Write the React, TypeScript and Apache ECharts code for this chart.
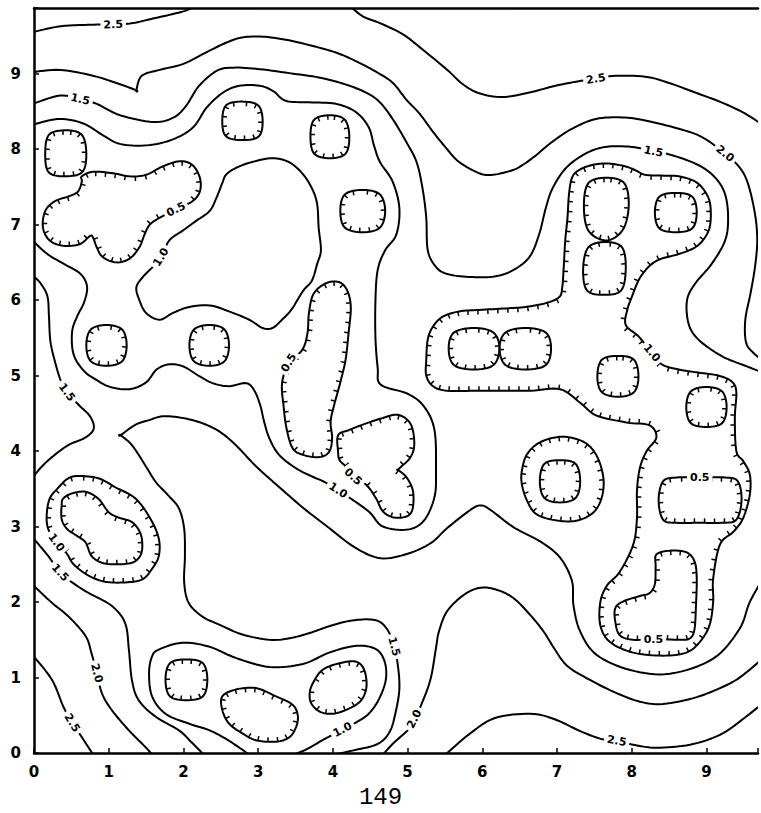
import { useEffect, useRef } from "react";
import * as echarts from "echarts";

type P = [number, number];

const X_MAX = 9.69;
const Y_MAX = 9.87;
const xTickLabels = ["0", "1", "2", "3", "4", "5", "6", "7", "8", "9"];
const yTickLabels = ["0", "1", "2", "3", "4", "5", "6", "7", "8", "9"];
const pageNumber = "149";

// ---- level 2.5 ----
const c25TopLeft: P[] = [[-0.02,9.55],[0.30,9.62],[0.52,9.64],[0.84,9.65],[1.06,9.65],[1.32,9.67],[1.59,9.73],[1.86,9.79],[2.04,9.84],[2.2,9.92]];
const c25TopRight: P[] = [[4.2,9.92],[4.40,9.76],[4.63,9.67],[4.94,9.52],[5.20,9.32],[5.52,9.06],[5.74,8.86],[5.96,8.74],[6.27,8.69],[6.63,8.75],[6.98,8.84],[7.29,8.90],[7.52,8.93],[7.74,8.97],[8.18,8.96],[8.49,8.88],[8.85,8.75],[9.20,8.62],[9.52,8.47],[9.78,8.30]];
const c25BottomLeft: P[] = [[-0.02,1.30],[0.24,0.97],[0.39,0.62],[0.51,0.40],[0.64,0.21],[0.79,-0.02]];
const c25BottomRight: P[] = [[5.51,-0.02],[5.8,0.23],[6.16,0.46],[6.64,0.52],[6.96,0.45],[7.31,0.29],[7.58,0.19],[7.80,0.16],[8.02,0.11],[8.33,0.07],[8.78,0.11],[9.18,0.24],[9.49,0.45],[9.78,0.68]];

// ---- level 2.0 ----
const c20Top: P[] = [[-0.02,9.02],[0.35,9.05],[0.8,8.97],[1.15,8.86],[1.37,8.78],[1.37,8.78],[1.44,8.97],[1.68,9.05],[2.0,9.13],[2.30,9.28],[2.57,9.41],[2.79,9.48],[3.06,9.49],[3.37,9.45],[3.72,9.37],[4.04,9.28],[4.30,9.17],[4.57,9.03],[4.80,8.88],[4.98,8.66],[5.16,8.47],[5.34,8.23],[5.52,8.01],[5.69,7.83],[5.96,7.68],[6.14,7.66],[6.40,7.72],[6.54,7.79],[6.72,7.92],[6.94,8.10],[7.20,8.27],[7.52,8.40],[7.87,8.42],[8.18,8.38],[8.63,8.27],[8.94,8.16],[9.25,7.94],[9.45,7.75],[9.56,7.53],[9.65,7.14],[9.68,6.79],[9.65,6.44],[9.59,6.09],[9.52,5.74],[9.53,5.44],[9.63,5.30],[9.78,5.18]];
const c20BottomLeft: P[] = [[-0.02,2.23],[0.24,1.99],[0.46,1.81],[0.69,1.55],[0.77,1.32],[0.84,1.06],[0.91,0.79],[1.04,0.57],[1.27,0.30],[1.49,0.08],[1.58,-0.02]];
const c20BottomRight: P[] = [[4.67,-0.02],[4.82,0.14],[5.0,0.30],[5.09,0.45],[5.2,0.68],[5.31,0.99],[5.38,1.39],[5.42,1.61],[5.53,1.88],[5.76,2.10],[5.98,2.19],[6.2,2.16],[6.42,2.05],[6.64,1.83],[6.82,1.61],[6.96,1.39],[7.13,1.16],[7.4,0.99],[7.76,0.81],[8.11,0.68],[8.42,0.65],[8.87,0.74],[9.31,0.92],[9.55,1.08],[9.78,1.28]];

// ---- level 1.5 ----
const c15Top: P[] = [[-0.02,8.60],[0.35,8.71],[0.62,8.66],[0.84,8.60],[1.15,8.45],[1.6,8.36],[1.87,8.42],[2.04,8.58],[2.21,8.84],[2.45,9.04],[2.67,9.08],[3.02,9.06],[3.47,9.0],[3.81,8.95],[4.13,8.87],[4.4,8.77],[4.61,8.64],[4.80,8.40],[4.98,8.10],[5.12,7.83],[5.20,7.48],[5.25,7.09],[5.27,6.66],[5.38,6.44],[5.52,6.35],[5.78,6.31],[6.14,6.31],[6.40,6.39],[6.63,6.57],[6.76,6.87],[6.85,7.22],[6.94,7.48],[7.12,7.75],[7.38,7.94],[7.65,8.03],[8.0,8.03],[8.29,7.97],[8.54,7.92],[8.89,7.79],[9.12,7.62],[9.25,7.40],[9.29,7.09],[9.25,6.79],[9.07,6.48],[8.85,6.22],[8.74,6.0],[8.76,5.69],[8.89,5.48],[9.20,5.26],[9.52,5.13],[9.78,5.03]];
const c15Left: P[] = [[-0.02,6.33],[0.09,6.22],[0.18,6.05],[0.2,5.79],[0.22,5.45],[0.29,5.15],[0.36,4.93],[0.44,4.78],[0.60,4.61],[0.75,4.46],[0.80,4.30],[0.69,4.18],[0.46,4.08],[0.24,3.92],[0.10,3.79],[-0.02,3.65]];
const c15Cusp: P[] = [[9.78,2.35],[9.58,2.0],[9.44,1.64],[9.09,1.25],[8.51,1.05],[7.98,1.10],[7.53,1.30],[7.31,1.61],[7.22,1.96],[7.2,2.28],[7.04,2.59],[6.78,2.80],[6.42,2.99],[6.11,3.22],[5.98,3.28],[5.84,3.22],[5.53,2.98],[5.31,2.78],[5.0,2.64],[4.64,2.58],[4.3,2.72],[3.95,2.98],[3.6,3.25],[3.25,3.55],[2.95,3.82],[2.70,4.08],[2.48,4.26],[2.25,4.37],[1.98,4.44],[1.72,4.46],[1.54,4.41],[1.36,4.35],[1.16,4.21],[1.16,4.21],[1.31,4.08],[1.49,3.81],[1.63,3.59],[1.80,3.41],[1.94,3.24],[2.01,2.97],[2.02,2.61],[2.01,2.26],[2.07,1.99],[2.25,1.81],[2.48,1.70],[2.79,1.57],[3.15,1.50],[3.42,1.52],[3.69,1.59],[3.95,1.68],[4.22,1.75],[4.49,1.77],[4.64,1.73],[4.75,1.60],[4.82,1.41],[4.87,1.16],[4.89,0.85],[4.84,0.54],[4.76,0.28],[4.6,0.12],[4.3,0.04],[4.02,-0.02]];
const c15BottomLeft: P[] = [[-0.02,2.86],[0.19,2.61],[0.35,2.39],[0.51,2.26],[0.73,2.12],[1.04,1.95],[1.22,1.72],[1.27,1.37],[1.31,0.97],[1.40,0.70],[1.63,0.48],[1.94,0.30],[2.1,0.15],[2.27,-0.02]];

// ---- level 1.0 ----
const c10LeftCluster: P[] = [[-0.02,8.30],[0.04,8.34],[0.35,8.40],[0.66,8.34],[0.93,8.18],[1.15,8.07],[1.51,8.05],[1.86,8.13],[2.13,8.29],[2.31,8.55],[2.53,8.75],[2.75,8.84],[3.02,8.84],[3.2,8.77],[3.37,8.64],[3.68,8.62],[4.04,8.6],[4.31,8.49],[4.48,8.29],[4.55,8.05],[4.63,7.83],[4.80,7.57],[4.89,7.22],[4.85,6.87],[4.70,6.66],[4.60,6.4],[4.57,6.0],[4.57,5.5],[4.6,5.1],[4.64,4.88],[5.0,4.76],[5.22,4.59],[5.36,4.28],[5.38,3.74],[5.36,3.39],[5.22,3.08],[5.0,2.96],[4.67,3.0],[4.49,3.19],[4.27,3.35],[4.07,3.48],[3.89,3.59],[3.73,3.66],[3.51,3.77],[3.28,3.95],[3.15,4.17],[3.08,4.39],[3.03,4.6],[2.95,4.8],[2.84,4.9],[2.61,4.86],[2.39,4.9],[2.2,5.0],[2.0,5.12],[1.81,5.15],[1.64,5.08],[1.50,4.91],[1.28,4.82],[1.02,4.85],[0.84,4.94],[0.67,5.06],[0.53,5.28],[0.51,5.58],[0.58,5.79],[0.67,5.97],[0.71,6.18],[0.62,6.35],[0.4,6.48],[0.18,6.61],[-0.02,6.79]];
const c10Hole: P[] = [[2.57,7.66],[2.70,7.75],[2.92,7.83],[3.19,7.88],[3.41,7.83],[3.59,7.68],[3.72,7.48],[3.79,7.27],[3.81,6.96],[3.84,6.66],[3.79,6.48],[3.72,6.26],[3.60,6.12],[3.45,5.88],[3.32,5.74],[3.19,5.63],[3.06,5.63],[2.88,5.74],[2.61,5.85],[2.35,5.93],[2.08,5.91],[1.86,5.83],[1.68,5.74],[1.50,5.83],[1.41,6.0],[1.37,6.17],[1.46,6.31],[1.59,6.44],[1.70,6.57],[1.81,6.79],[1.99,6.92],[2.17,7.05],[2.35,7.18],[2.44,7.35],[2.52,7.55]];
const c10BlobOuter: P[] = [[0.60,3.67],[0.86,3.64],[1.09,3.52],[1.36,3.37],[1.56,3.10],[1.67,2.84],[1.67,2.61],[1.58,2.44],[1.45,2.30],[1.22,2.26],[0.95,2.27],[0.73,2.35],[0.53,2.50],[0.44,2.64],[0.30,2.79],[0.19,2.97],[0.17,3.15],[0.21,3.37],[0.33,3.52],[0.46,3.64]];
const c10Bottom: P[] = [[2.87,-0.02],[2.78,0.05],[2.58,0.18],[2.35,0.30],[2.07,0.39],[1.76,0.52],[1.58,0.75],[1.54,1.06],[1.58,1.28],[1.67,1.37],[1.98,1.46],[2.34,1.41],[2.70,1.26],[3.15,1.14],[3.6,1.18],[3.95,1.33],[4.31,1.42],[4.57,1.38],[4.69,1.22],[4.71,0.98],[4.62,0.72],[4.48,0.52],[4.3,0.40],[4.13,0.31],[3.88,0.18],[3.65,0.05],[3.48,-0.02]];
const c10RightCluster: P[] = [[8.27,5.30],[8.09,5.52],[7.92,5.67],[7.94,5.87],[8.0,6.04],[8.09,6.26],[8.18,6.39],[8.27,6.48],[8.40,6.55],[8.63,6.61],[8.85,6.70],[8.98,6.83],[9.05,7.0],[9.05,7.27],[8.98,7.44],[8.85,7.57],[8.63,7.64],[8.40,7.65],[8.18,7.66],[8.05,7.72],[7.92,7.77],[7.69,7.81],[7.47,7.79],[7.29,7.72],[7.20,7.62],[7.16,7.40],[7.14,7.09],[7.11,6.79],[7.09,6.44],[7.07,6.17],[7.03,6.04],[6.85,5.96],[6.58,5.91],[6.32,5.89],[5.96,5.87],[5.69,5.85],[5.47,5.78],[5.34,5.65],[5.27,5.48],[5.25,5.21],[5.25,5.0],[5.34,4.86],[5.53,4.80],[5.98,4.80],[6.64,4.80],[7.04,4.82],[7.31,4.64],[7.53,4.47],[7.93,4.38],[8.24,4.34],[8.33,4.18],[8.2,4.0],[8.11,3.78],[8.07,3.47],[8.07,3.11],[8.02,2.76],[7.84,2.40],[7.67,2.22],[7.58,2.0],[7.58,1.69],[7.71,1.47],[8.02,1.33],[8.42,1.29],[8.73,1.33],[8.91,1.47],[9.04,1.69],[9.09,2.0],[9.09,2.31],[9.18,2.76],[9.36,2.93],[9.49,3.11],[9.58,3.42],[9.58,3.69],[9.49,3.87],[9.4,4.0],[9.38,4.44],[9.4,4.78],[9.34,4.92],[9.16,5.0],[8.89,5.04],[8.63,5.08],[8.40,5.15]];
const c10Ring: P[] = [[6.53,3.74],[6.6,3.96],[6.78,4.12],[7.07,4.19],[7.36,4.12],[7.53,3.94],[7.62,3.65],[7.6,3.39],[7.49,3.19],[7.27,3.08],[7.0,3.08],[6.73,3.16],[6.6,3.34],[6.53,3.56]];

// ---- level 0.5 (closed depressions) ----
const c05A: P[] = [[0.43,8.25],[0.64,8.19],[0.70,7.95],[0.65,7.70],[0.43,7.64],[0.20,7.69],[0.15,7.93],[0.20,8.19]];
const c05B: P[] = [[2.78,8.63],[3.0,8.58],[3.06,8.38],[3.01,8.17],[2.79,8.12],[2.57,8.17],[2.52,8.37],[2.57,8.58]];
const c05C: P[] = [[3.96,8.45],[4.16,8.39],[4.22,8.17],[4.17,7.94],[3.96,7.88],[3.75,7.94],[3.70,8.17],[3.75,8.39]];
const c05D: P[] = [[4.40,7.46],[4.63,7.40],[4.70,7.18],[4.63,6.96],[4.40,6.90],[4.16,6.96],[4.10,7.18],[4.16,7.40]];
const c05E: P[] = [[0.97,5.67],[1.18,5.61],[1.24,5.40],[1.18,5.19],[0.97,5.13],[0.76,5.19],[0.70,5.40],[0.76,5.61]];
const c05F: P[] = [[2.35,5.67],[2.55,5.61],[2.61,5.40],[2.55,5.19],[2.35,5.13],[2.14,5.19],[2.08,5.40],[2.14,5.61]];
const c05G: P[] = [[0.64,7.64],[0.79,7.70],[1.06,7.68],[1.28,7.64],[1.50,7.66],[1.72,7.77],[1.95,7.84],[2.12,7.79],[2.22,7.62],[2.22,7.44],[2.12,7.31],[1.90,7.20],[1.68,7.09],[1.55,7.00],[1.48,6.87],[1.41,6.70],[1.28,6.55],[1.10,6.50],[0.92,6.57],[0.84,6.70],[0.79,6.83],[0.75,6.85],[0.61,6.74],[0.39,6.72],[0.21,6.79],[0.12,6.96],[0.15,7.18],[0.28,7.31],[0.48,7.38],[0.59,7.44],[0.64,7.57]];
const c05H: P[] = [[3.74,6.08],[3.90,6.22],[4.08,6.24],[4.19,6.13],[4.24,5.91],[4.21,5.56],[4.17,5.21],[4.10,4.91],[4.02,4.62],[3.97,4.39],[3.99,4.17],[3.95,3.99],[3.82,3.92],[3.60,3.95],[3.46,4.04],[3.38,4.30],[3.34,4.6],[3.32,4.90],[3.41,5.17],[3.59,5.34],[3.66,5.56],[3.68,5.83]];
const c05K: P[] = [[4.07,4.21],[4.22,4.28],[4.40,4.35],[4.64,4.43],[4.87,4.48],[5.04,4.36],[5.09,4.10],[5.04,3.92],[4.91,3.79],[4.87,3.75],[4.87,3.75],[4.98,3.66],[5.07,3.48],[5.07,3.25],[5.0,3.14],[4.82,3.12],[4.67,3.20],[4.58,3.37],[4.45,3.55],[4.27,3.66],[4.18,3.79],[4.09,3.88],[4.07,3.99]];
const c05I1: P[] = [[7.66,7.62],[7.90,7.55],[7.96,7.25],[7.88,6.93],[7.66,6.79],[7.42,6.92],[7.36,7.25],[7.42,7.55]];
const c05I2: P[] = [[7.65,6.77],[7.87,6.70],[7.92,6.42],[7.86,6.13],[7.63,6.07],[7.40,6.13],[7.35,6.42],[7.42,6.70]];
const c05I3: P[] = [[8.59,7.42],[8.81,7.37],[8.87,7.16],[8.81,6.95],[8.59,6.90],[8.37,6.95],[8.31,7.16],[8.37,7.37]];
const c05I4a: P[] = [[5.89,5.63],[6.15,5.57],[6.23,5.36],[6.15,5.14],[5.89,5.08],[5.62,5.14],[5.55,5.36],[5.62,5.57]];
const c05I4b: P[] = [[6.58,5.63],[6.85,5.57],[6.92,5.36],[6.85,5.14],[6.58,5.08],[6.31,5.14],[6.23,5.36],[6.31,5.57]];
const c05I5: P[] = [[7.82,5.26],[8.03,5.21],[8.09,4.99],[8.03,4.78],[7.82,4.72],[7.60,4.78],[7.54,4.99],[7.60,5.21]];
const c05J1: P[] = [[7.04,3.88],[7.25,3.83],[7.31,3.60],[7.25,3.38],[7.04,3.32],[6.83,3.38],[6.77,3.60],[6.83,3.83]];
const c05J2: P[] = [[8.6,3.65],[8.91,3.65],[9.25,3.65],[9.42,3.60],[9.47,3.35],[9.40,3.09],[9.2,3.05],[8.9,3.05],[8.6,3.05],[8.42,3.09],[8.36,3.35],[8.42,3.60]];
const c05J3: P[] = [[9.0,4.85],[9.21,4.79],[9.27,4.58],[9.21,4.37],[9.0,4.32],[8.79,4.37],[8.73,4.58],[8.79,4.79]];
const c05J4: P[] = [[8.33,2.63],[8.51,2.68],[8.73,2.66],[8.84,2.54],[8.87,2.32],[8.86,1.96],[8.84,1.64],[8.78,1.52],[8.64,1.50],[8.29,1.51],[8.02,1.50],[7.84,1.56],[7.78,1.74],[7.78,1.92],[7.89,2.01],[8.11,2.08],[8.24,2.12],[8.31,2.24],[8.32,2.47]];
const c05L1: P[] = [[0.39,3.37],[0.51,3.44],[0.69,3.46],[0.86,3.37],[1.0,3.19],[1.13,3.12],[1.31,3.06],[1.42,2.92],[1.45,2.75],[1.42,2.61],[1.31,2.52],[1.09,2.50],[0.91,2.52],[0.77,2.61],[0.69,2.79],[0.57,2.88],[0.44,2.97],[0.37,3.10],[0.37,3.28]];
const c05M1: P[] = [[2.04,1.24],[2.26,1.19],[2.32,0.97],[2.26,0.75],[2.04,0.70],[1.82,0.75],[1.76,0.97],[1.82,1.19]];
const c05M2: P[] = [[2.52,0.75],[2.70,0.84],[2.97,0.86],[3.24,0.75],[3.46,0.64],[3.53,0.50],[3.51,0.35],[3.42,0.21],[3.24,0.15],[2.97,0.17],[2.79,0.26],[2.61,0.39],[2.52,0.57]];
const c05M3: P[] = [[3.73,0.92],[3.86,1.10],[4.09,1.19],[4.31,1.21],[4.42,1.10],[4.45,0.88],[4.38,0.70],[4.22,0.59],[4.0,0.52],[3.82,0.55],[3.71,0.66],[3.69,0.79]];

// contour labels: [x, y, text]
const contourLabels: [number, number, string][] = [
  [1.06, 9.65, "2.5"], [7.52, 8.93, "2.5"], [0.51, 0.40, "2.5"], [7.80, 0.16, "2.5"],
  [9.25, 7.94, "2.0"], [0.84, 1.06, "2.0"], [5.09, 0.45, "2.0"],
  [0.62, 8.66, "1.5"], [8.29, 7.97, "1.5"], [0.44, 4.78, "1.5"], [0.35, 2.39, "1.5"], [4.82, 1.41, "1.5"],
  [1.70, 6.57, "1.0"], [4.07, 3.48, "1.0"], [0.30, 2.79, "1.0"], [4.13, 0.31, "1.0"], [8.27, 5.30, "1.0"],
  [1.90, 7.20, "0.5"], [3.41, 5.17, "0.5"], [4.27, 3.66, "0.5"], [8.91, 3.65, "0.5"], [8.29, 1.51, "0.5"],
];

interface Contour { level: number; pts: P[]; closed: boolean; hachure: boolean }

const open = (level: number, pts: P[]): Contour => ({ level, pts, closed: false, hachure: false });
const loop = (level: number, pts: P[], hachure: boolean): Contour => ({ level, pts, closed: true, hachure });

const contours: Contour[] = [
  open(2.5, c25TopLeft), open(2.5, c25TopRight), open(2.5, c25BottomLeft), open(2.5, c25BottomRight),
  open(2.0, c20Top), open(2.0, c20BottomLeft), open(2.0, c20BottomRight),
  open(1.5, c15Top), open(1.5, c15Left), open(1.5, c15Cusp), open(1.5, c15BottomLeft),
  open(1.0, c10LeftCluster), loop(1.0, c10Hole, false), loop(1.0, c10BlobOuter, true), open(1.0, c10Bottom),
  loop(1.0, c10RightCluster, true), loop(1.0, c10Ring, true),
  loop(0.5, c05A, true), loop(0.5, c05B, true), loop(0.5, c05C, true), loop(0.5, c05D, true),
  loop(0.5, c05E, true), loop(0.5, c05F, true), loop(0.5, c05G, true), loop(0.5, c05H, true),
  loop(0.5, c05K, true), loop(0.5, c05I1, true), loop(0.5, c05I2, true), loop(0.5, c05I3, true),
  loop(0.5, c05I4a, true), loop(0.5, c05I4b, true), loop(0.5, c05I5, true), loop(0.5, c05J1, true),
  loop(0.5, c05J2, true), loop(0.5, c05J3, true), loop(0.5, c05J4, true), loop(0.5, c05L1, true),
  loop(0.5, c05M1, true), loop(0.5, c05M2, true), loop(0.5, c05M3, true),
];

function smooth(pts: number[][], closed: boolean, seg = 8): number[][] {
  const n = pts.length;
  const get = (i: number) => (closed ? pts[(i + n) % n] : pts[Math.max(0, Math.min(n - 1, i))]);
  const out: number[][] = [];
  const last = closed ? n : n - 1;
  for (let i = 0; i < last; i++) {
    const p0 = get(i - 1), p1 = get(i), p2 = get(i + 1), p3 = get(i + 2);
    for (let s = 0; s < seg; s++) {
      const t = s / seg, t2 = t * t, t3 = t2 * t;
      const f = (k: number) =>
        0.5 * (2 * p1[k] + (-p0[k] + p2[k]) * t + (2 * p0[k] - 5 * p1[k] + 4 * p2[k] - p3[k]) * t2 + (-p0[k] + 3 * p1[k] - 3 * p2[k] + p3[k]) * t3);
      out.push([f(0), f(1)]);
    }
  }
  out.push(closed ? pts[0].slice() : pts[n - 1].slice());
  return out;
}

function renderContour(params: any, api: any) {
  const c = contours[params.dataIndex];
  const px = c.pts.map((p) => api.coord(p));
  const dense = smooth(px, c.closed);
  const children: any[] = [
    {
      type: "polyline",
      shape: { points: dense },
      style: { stroke: "#000", lineWidth: 2, fill: "none", lineJoin: "round", lineCap: "round" },
    },
  ];
  if (c.hachure) {
    let area = 0;
    for (let i = 0; i < dense.length - 1; i++) area += dense[i][0] * dense[i + 1][1] - dense[i + 1][0] * dense[i][1];
    const sgn = area > 0 ? 1 : -1;
    const spacing = 10, L = 4.5;
    let acc = spacing / 2;
    for (let i = 0; i < dense.length - 1; i++) {
      const a = dense[i], b = dense[i + 1];
      const dx = b[0] - a[0], dy = b[1] - a[1];
      const len = Math.hypot(dx, dy);
      if (len === 0) continue;
      const tx = dx / len, ty = dy / len;
      const nx = -ty * sgn, ny = tx * sgn;
      while (acc <= len) {
        const x = a[0] + tx * acc, y = a[1] + ty * acc;
        children.push({
          type: "line",
          shape: { x1: x, y1: y, x2: x + nx * L, y2: y + ny * L },
          style: { stroke: "#000", lineWidth: 1.5 },
        });
        acc += spacing;
      }
      acc -= len;
    }
  }
  const cs = params.coordSys;
  return {
    type: "group",
    clipPath: { type: "rect", shape: { x: cs.x, y: cs.y, width: cs.width, height: cs.height } },
    children,
  };
}

function renderLabel(params: any, api: any) {
  const [x, y, text] = contourLabels[params.dataIndex];
  let best: { c: Contour; i: number } | null = null;
  let bd = Infinity;
  for (const c of contours) {
    c.pts.forEach((p, i) => {
      const d = (p[0] - x) ** 2 + (p[1] - y) ** 2;
      if (d < bd) { bd = d; best = { c, i }; }
    });
  }
  let ang = 0;
  if (best) {
    const { c, i } = best as { c: Contour; i: number };
    const n = c.pts.length;
    const prev = c.closed ? c.pts[(i - 1 + n) % n] : c.pts[Math.max(0, i - 1)];
    const next = c.closed ? c.pts[(i + 1) % n] : c.pts[Math.min(n - 1, i + 1)];
    const a = api.coord(prev), b = api.coord(next);
    ang = Math.atan2(-(b[1] - a[1]), b[0] - a[0]);
    if (ang > Math.PI / 2) ang -= Math.PI;
    if (ang < -Math.PI / 2) ang += Math.PI;
  }
  const p = api.coord([x, y]);
  return {
    type: "text",
    x: p[0],
    y: p[1],
    rotation: ang,
    style: {
      text,
      fill: "#000",
      fontSize: 11,
      fontWeight: "bold",
      fontFamily: "DejaVu Sans",
      align: "center",
      verticalAlign: "middle",
      backgroundColor: "#fff",
      padding: [0, 3],
    },
  };
}

export default function App() {
  const ref = useRef<HTMLDivElement>(null);
  useEffect(() => {
    if (!ref.current) return;
    const chart = echarts.init(ref.current, undefined, { renderer: "svg" });
    const tickLabel = (labels: string[]) => (v: number) =>
      Number.isInteger(v) && v >= 0 && v < labels.length ? labels[v] : "";
    const axisFont = { color: "#000", fontFamily: "DejaVu Sans", fontWeight: "bold" as const, fontSize: 15 };
    chart.setOption({
      animation: false,
      backgroundColor: "#fff",
      grid: { left: 34, top: 8, width: 727, height: 745 },
      xAxis: [
        {
          type: "value", min: 0, max: X_MAX, interval: 1,
          axisLine: { show: true, lineStyle: { color: "#000", width: 2.5 } },
          axisTick: { show: true, inside: true, length: 5, lineStyle: { color: "#000", width: 1.5 } },
          axisLabel: { ...axisFont, margin: 11, formatter: tickLabel(xTickLabels) },
          splitLine: { show: false },
        },
        {
          type: "value", position: "top", min: 0, max: X_MAX,
          axisLine: { show: true, lineStyle: { color: "#000", width: 2.5 } },
          axisTick: { show: false }, axisLabel: { show: false }, splitLine: { show: false },
        },
      ],
      yAxis: {
        type: "value", min: 0, max: Y_MAX, interval: 1,
        axisLine: { show: true, lineStyle: { color: "#000", width: 2.5 } },
        axisTick: { show: true, inside: true, length: 5, lineStyle: { color: "#000", width: 1.5 } },
        axisLabel: { ...axisFont, margin: 13, formatter: tickLabel(yTickLabels) },
        splitLine: { show: false },
      },
      graphic: [
        {
          type: "text", left: "center", top: 785,
          style: { text: pageNumber, fill: "#000", fontFamily: "Liberation Mono", fontSize: 24 },
        },
      ],
      series: [
        {
          type: "custom", name: "contours", xAxisIndex: 0, yAxisIndex: 0,
          data: contours.map((c) => [c.pts[0][0], c.pts[0][1]]),
          renderItem: renderContour, z: 2, silent: true,
        },
        {
          type: "custom", name: "labels", xAxisIndex: 0, yAxisIndex: 0,
          data: contourLabels.map((l) => [l[0], l[1]]),
          renderItem: renderLabel, z: 3, silent: true,
        },
      ],
    });
    return () => chart.dispose();
  }, []);
  return (
    <div
      ref={ref}
      style={{ position: "fixed", left: 0, top: 0, width: 761, height: 813, background: "#fff" }}
    />
  );
}
